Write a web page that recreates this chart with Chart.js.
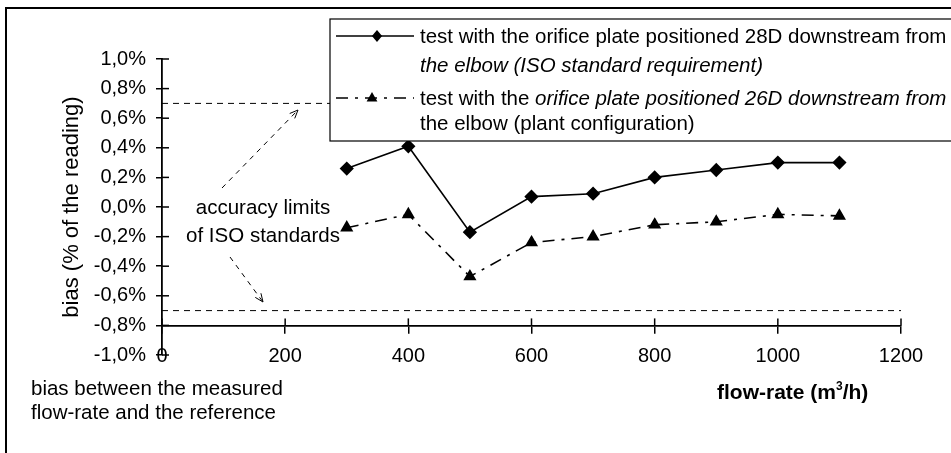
<!DOCTYPE html>
<html>
<head>
<meta charset="utf-8">
<script src="https://cdn.jsdelivr.net/npm/chart.js"></script>
<style>
  html, body { margin: 0; padding: 0; background: #fff; }
  #wrap { position: relative; width: 951px; height: 453px; overflow: hidden; }
  #chart { position: absolute; left: 0; top: 0; }
  .txt { position: absolute; font: 20.5px "Liberation Sans", Arial, sans-serif; color: #000; white-space: nowrap; line-height: 24px; }
  .it { font-style: italic; }
  .bold { font-weight: bold; font-size: 21px; }
</style>
</head>
<body>
<div id="wrap">
  <canvas id="chart" width="951" height="453"></canvas>
  <div class="txt" style="left:420px; top:24px;">test with the orifice plate positioned 28D downstream from</div>
  <div class="txt it" style="left:420px; top:53px;">the elbow (ISO standard requirement)</div>
  <div class="txt" style="left:420px; top:86px;">test with the <span class="it">orifice plate positioned 26D downstream from</span></div>
  <div class="txt" style="left:420px; top:111px;">the elbow (plant configuration)</div>
  <div class="txt" style="left:263px; top:195px; transform:translateX(-50%);">accuracy limits</div>
  <div class="txt" style="left:263px; top:223px; transform:translateX(-50%);">of ISO standards</div>
  <div class="txt" style="left:31px; top:376px;">bias between the measured</div>
  <div class="txt" style="left:31px; top:400px;">flow-rate and the reference</div>
  <div class="txt bold" style="left:717px; top:380px;">flow-rate (m<sup style="font-size:12px; line-height:0; vertical-align:9px;">3</sup>/h)</div>
</div>
<script>
// flow-rate (m3/h) of each test point
const flowRates = [300, 400, 500, 600, 700, 800, 900, 1000, 1100];
// bias (% of the reading), orifice plate 28D downstream from the elbow
const bias28D = [0.26, 0.41, -0.17, 0.07, 0.09, 0.20, 0.25, 0.30, 0.30];
// bias (% of the reading), orifice plate 26D downstream from the elbow
const bias26D = [-0.14, -0.05, -0.47, -0.24, -0.20, -0.12, -0.10, -0.05, -0.06];
// accuracy limits of ISO standards
const isoLimits = [0.7, -0.7];
const xTicks = [0, 200, 400, 600, 800, 1000, 1200];
const yTicks = [-1.0, -0.8, -0.6, -0.4, -0.2, 0.0, 0.2, 0.4, 0.6, 0.8, 1.0];

const FONT = '"Liberation Sans", Arial, sans-serif';

function fmtPct(v) {
  if (Math.abs(v) < 1e-9) v = 0;
  return v.toFixed(1).replace('.', ',') + '%';
}

function drawMarker(ctx, style, x, y, r) {
  ctx.beginPath();
  if (style === 'rectRot') {
    ctx.moveTo(x, y - r); ctx.lineTo(x + r * 0.85, y); ctx.lineTo(x, y + r); ctx.lineTo(x - r * 0.85, y);
  } else {
    ctx.moveTo(x, y - r); ctx.lineTo(x + r * 0.9, y + r * 0.6); ctx.lineTo(x - r * 0.9, y + r * 0.6);
  }
  ctx.closePath();
  ctx.fill();
}

function arrow(ctx, x1, y1, x2, y2) {
  ctx.save();
  ctx.strokeStyle = '#000';
  ctx.lineWidth = 1;
  ctx.setLineDash([5, 5]);
  ctx.beginPath(); ctx.moveTo(x1, y1); ctx.lineTo(x2, y2); ctx.stroke();
  ctx.setLineDash([]);
  const a = Math.atan2(y2 - y1, x2 - x1);
  ctx.beginPath();
  ctx.moveTo(x2 - 9 * Math.cos(a - 0.4), y2 - 9 * Math.sin(a - 0.4));
  ctx.lineTo(x2, y2);
  ctx.lineTo(x2 - 9 * Math.cos(a + 0.4), y2 - 9 * Math.sin(a + 0.4));
  ctx.stroke();
  ctx.restore();
}

const decor = {
  id: 'decor',
  beforeDraw(chart) {
    const ctx = chart.ctx;
    ctx.save();
    ctx.fillStyle = '#fff';
    ctx.fillRect(0, 0, chart.width, chart.height);
    // outer frame of the figure
    ctx.strokeStyle = '#000';
    ctx.lineWidth = 2;
    ctx.beginPath();
    ctx.moveTo(6, chart.height); ctx.lineTo(6, 8); ctx.lineTo(chart.width, 8);
    ctx.stroke();
    ctx.restore();
  },
  beforeDatasetsDraw(chart) {
    const { ctx, scales: { x, y } } = chart;
    ctx.save();
    ctx.strokeStyle = '#000';
    ctx.lineWidth = 1;
    ctx.setLineDash([6, 5]);
    isoLimits.forEach(v => {
      ctx.beginPath();
      ctx.moveTo(x.getPixelForValue(0), y.getPixelForValue(v));
      ctx.lineTo(x.getPixelForValue(1200), y.getPixelForValue(v));
      ctx.stroke();
    });
    ctx.setLineDash([]);
    // tick marks on the inner side of the axes
    ctx.lineWidth = 1.5;
    const ax = x.getPixelForValue(0);
    yTicks.forEach(v => {
      const py = y.getPixelForValue(v);
      ctx.beginPath(); ctx.moveTo(ax, py); ctx.lineTo(ax + 7, py); ctx.stroke();
    });
    const ay = y.getPixelForValue(-0.8);
    xTicks.forEach(v => {
      const px = x.getPixelForValue(v);
      ctx.beginPath(); ctx.moveTo(px, ay); ctx.lineTo(px, ay - 7); ctx.stroke();
    });
    ctx.restore();
    arrow(ctx, 222, 188, 298, 110);
    arrow(ctx, 230, 257, 263, 302);
  },
  afterDraw(chart) {
    const ctx = chart.ctx;
    ctx.save();
    // legend box
    ctx.fillStyle = '#fff';
    ctx.strokeStyle = '#000';
    ctx.lineWidth = 1.2;
    ctx.fillRect(330, 19, 640, 122);
    ctx.strokeRect(330, 19, 640, 122);
    ctx.fillStyle = '#000';
    const ds = chart.data.datasets;
    const rows = [36, 98];
    ds.forEach((d, i) => {
      const yy = rows[i];
      ctx.lineWidth = d.borderWidth;
      ctx.setLineDash(d.borderDash || []);
      ctx.beginPath(); ctx.moveTo(336, yy); ctx.lineTo(414, yy); ctx.stroke();
      ctx.setLineDash([]);
      drawMarker(ctx, d.pointStyle, i === 0 ? 377 : 372, yy, d.pointRadius);
    });
    ctx.restore();
  }
};

new Chart(document.getElementById('chart'), {
  type: 'line',
  data: {
    datasets: [
      {
        label: 'test with the orifice plate positioned 28D downstream from the elbow (ISO standard requirement)',
        data: flowRates.map((f, i) => ({ x: f, y: bias28D[i] })),
        borderColor: '#000',
        backgroundColor: '#000',
        borderWidth: 1.6,
        pointStyle: 'rectRot',
        pointRadius: 6,
        tension: 0
      },
      {
        label: 'test with the orifice plate positioned 26D downstream from the elbow (plant configuration)',
        data: flowRates.map((f, i) => ({ x: f, y: bias26D[i] })),
        borderColor: '#000',
        backgroundColor: '#000',
        borderWidth: 1.6,
        borderDash: [12, 7, 3, 7],
        pointStyle: 'triangle',
        pointRadius: 6,
        tension: 0
      }
    ]
  },
  options: {
    responsive: false,
    animation: false,
    layout: { padding: { top: 59, right: 50, bottom: 98, left: 0 } },
    plugins: { legend: { display: false }, tooltip: { enabled: false } },
    scales: {
      x: {
        type: 'linear',
        min: 0,
        max: 1200,
        position: { y: -0.8 },
        afterBuildTicks: s => { s.ticks = xTicks.map(v => ({ value: v })); },
        ticks: { color: '#000', padding: 12, maxRotation: 0, font: { size: 20, family: FONT }, callback: v => String(v) },
        grid: { drawOnChartArea: false, color: '#000', lineWidth: 1.5, tickLength: 7 },
        border: { color: '#000', width: 1.8 }
      },
      y: {
        min: -1,
        max: 1,
        afterBuildTicks: s => { s.ticks = yTicks.map(v => ({ value: v })); },
        afterFit: s => { s.width = 162; },
        ticks: { color: '#000', padding: 10, font: { size: 20, family: FONT }, callback: v => fmtPct(v) },
        grid: { drawOnChartArea: false, color: '#000', lineWidth: 1.5, tickLength: 6 },
        border: { color: '#000', width: 1.8 },
        title: { display: true, text: 'bias (% of the reading)', color: '#000', font: { size: 22, family: FONT }, padding: { top: 59, bottom: 0 } }
      }
    }
  },
  plugins: [decor]
});
</script>
</body>
</html>
